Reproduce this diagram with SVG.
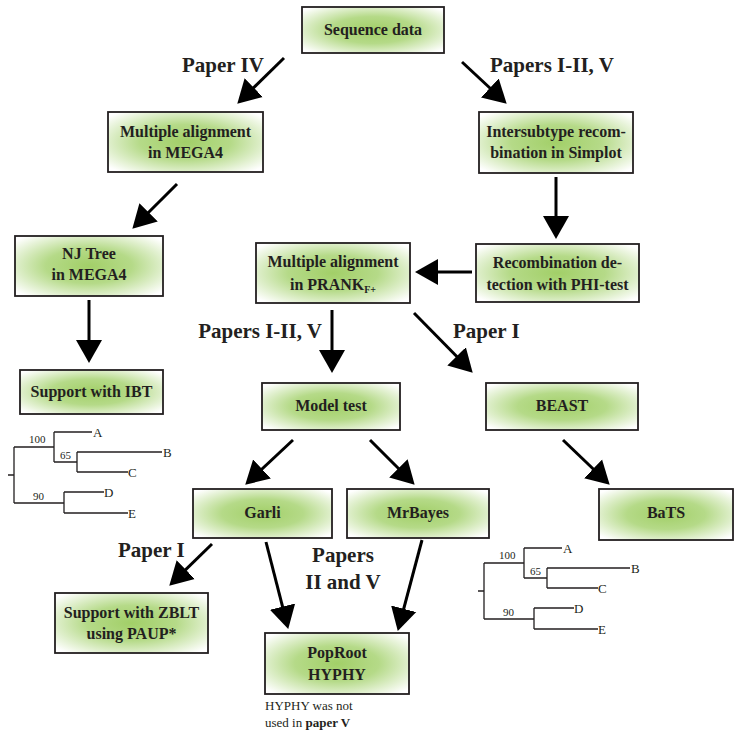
<svg xmlns="http://www.w3.org/2000/svg" width="734" height="732" viewBox="0 0 734 732">
<defs>
<radialGradient id="g" cx="0.5" cy="0.5" r="0.65">
<stop offset="0" stop-color="#a2cf68"/>
<stop offset="0.45" stop-color="#b5da88"/>
<stop offset="1" stop-color="#ffffff"/>
</radialGradient>
<marker id="ah" markerUnits="userSpaceOnUse" markerWidth="24" markerHeight="28" refX="14" refY="14" orient="auto">
<path d="M0,1 L23,14 L0,27 z" fill="#000"/>
</marker>
<style>
.box{fill:url(#g);stroke:#231f20;stroke-width:1.8}
.bt{font-family:"Liberation Serif",serif;font-weight:bold;font-size:16px;fill:#231f20;text-anchor:middle}
.lb{font-family:"Liberation Serif",serif;font-weight:bold;font-size:21px;fill:#231f20}
.note{font-family:"Liberation Serif",serif;font-size:13px;fill:#231f20}
.tl{fill:none;stroke:#231f20;stroke-width:1.3}
.tn{font-family:"Liberation Serif",serif;font-size:11px;fill:#231f20}
.tx{font-family:"Liberation Serif",serif;font-size:13px;fill:#231f20}
.con line{stroke:#000;stroke-width:3;marker-end:url(#ah)}
</style>
</defs>

<g id="connectors" class="con">
<line x1="284" y1="58" x2="243.7" y2="97.4"/>
<line x1="462" y1="62" x2="500.1" y2="97.5"/>
<line x1="177" y1="184" x2="138.7" y2="222.3"/>
<line x1="556" y1="177" x2="556" y2="230"/>
<line x1="472" y1="272" x2="424" y2="272"/>
<line x1="89" y1="300" x2="89" y2="354"/>
<line x1="332" y1="310" x2="332" y2="364"/>
<line x1="414" y1="313" x2="466.4" y2="366.3"/>
<line x1="293" y1="440" x2="251.8" y2="478.6"/>
<line x1="370" y1="440" x2="408.3" y2="478.3"/>
<line x1="563" y1="440" x2="603.2" y2="478.5"/>
<line x1="212" y1="544" x2="175.7" y2="579.4"/>
<line x1="266" y1="542" x2="286" y2="620.2"/>
<line x1="422" y1="540" x2="400.1" y2="622.3"/>
</g>

<g id="labels">
<text class="lb" x="182" y="72">Paper IV</text>
<text class="lb" x="490" y="72">Papers I-II, V</text>
<text class="lb" x="322" y="338" text-anchor="end">Papers I-II, V</text>
<text class="lb" x="453" y="338">Paper I</text>
<text class="lb" x="118" y="557">Paper I</text>
<text class="lb" x="343" y="562" text-anchor="middle">Papers</text>
<text class="lb" x="343" y="589" text-anchor="middle">II and V</text>
</g>

<g id="seq"><rect class="box" x="302" y="7" width="142" height="46"/><text class="bt" x="373" y="35">Sequence data</text></g>
<g id="mega4"><rect class="box" x="108" y="112" width="155" height="60"/><text class="bt" x="185.5" y="137">Multiple alignment</text><text class="bt" x="185.5" y="158">in MEGA4</text></g>
<g id="simplot"><rect class="box" x="479" y="112" width="154" height="61"/><text class="bt" x="556" y="137">Intersubtype recom-</text><text class="bt" x="556" y="158">bination in Simplot</text></g>
<g id="nj"><rect class="box" x="15" y="236" width="148" height="60"/><text class="bt" x="89" y="259">NJ Tree</text><text class="bt" x="89" y="280">in MEGA4</text></g>
<g id="prank"><rect class="box" x="256" y="243" width="154" height="60"/><text class="bt" x="333" y="267">Multiple alignment</text><text class="bt" x="333" y="290">in PRANK<tspan font-size="10" dy="3">F+</tspan></text></g>
<g id="phi"><rect class="box" x="476" y="244" width="163" height="58"/><text class="bt" x="557.5" y="268">Recombination de-</text><text class="bt" x="557.5" y="290">tection with PHI-test</text></g>
<g id="ibt"><rect class="box" x="20" y="370" width="143" height="44"/><text class="bt" x="91.5" y="397">Support with IBT</text></g>
<g id="model"><rect class="box" x="262" y="383" width="138" height="47"/><text class="bt" x="331" y="411">Model test</text></g>
<g id="beast"><rect class="box" x="486" y="383" width="152" height="47"/><text class="bt" x="562" y="411">BEAST</text></g>
<g id="garli"><rect class="box" x="193" y="489" width="139" height="49"/><text class="bt" x="262.5" y="518">Garli</text></g>
<g id="mrbayes"><rect class="box" x="347" y="489" width="142" height="49"/><text class="bt" x="418" y="518">MrBayes</text></g>
<g id="bats"><rect class="box" x="599" y="489" width="134" height="51"/><text class="bt" x="666" y="518">BaTS</text></g>
<g id="zblt"><rect class="box" x="55" y="593" width="153" height="60"/><text class="bt" x="131.5" y="618">Support with ZBLT</text><text class="bt" x="131.5" y="639">using PAUP*</text></g>
<g id="poproot"><rect class="box" x="265" y="633" width="144" height="61"/><text class="bt" x="337" y="658">PopRoot</text><text class="bt" x="337" y="680">HYPHY</text></g>

<g id="note">
<text class="note" x="265" y="710">HYPHY was not</text>
<text class="note" x="265" y="727">used in <tspan font-weight="bold">paper V</tspan></text>
</g>

<g id="tree1">
<path class="tl" d="M8,475 H14 M14,447 V503 M14,447 H54 M54,432 V462 M54,432 H92 M54,462 H77 M77,452 V472 M77,452 H162 M77,472 H128 M14,503 H64 M64,492 V513 M64,492 H104 M64,513 H128"/>
<text class="tn" x="29" y="443">100</text>
<text class="tn" x="60" y="459">65</text>
<text class="tn" x="33" y="500">90</text>
<text class="tx" x="93" y="437">A</text>
<text class="tx" x="163" y="457">B</text>
<text class="tx" x="128" y="477">C</text>
<text class="tx" x="104" y="497">D</text>
<text class="tx" x="128" y="518">E</text>
</g>

<g id="tree2" transform="translate(470,116)">
<path class="tl" d="M8,475 H14 M14,447 V503 M14,447 H54 M54,432 V462 M54,432 H92 M54,462 H77 M77,452 V472 M77,452 H160 M77,472 H128 M14,503 H64 M64,492 V513 M64,492 H104 M64,513 H128"/>
<text class="tn" x="29" y="443">100</text>
<text class="tn" x="60" y="459">65</text>
<text class="tn" x="33" y="500">90</text>
<text class="tx" x="93" y="437">A</text>
<text class="tx" x="161" y="457">B</text>
<text class="tx" x="128" y="477">C</text>
<text class="tx" x="104" y="497">D</text>
<text class="tx" x="128" y="518">E</text>
</g>
</svg>
